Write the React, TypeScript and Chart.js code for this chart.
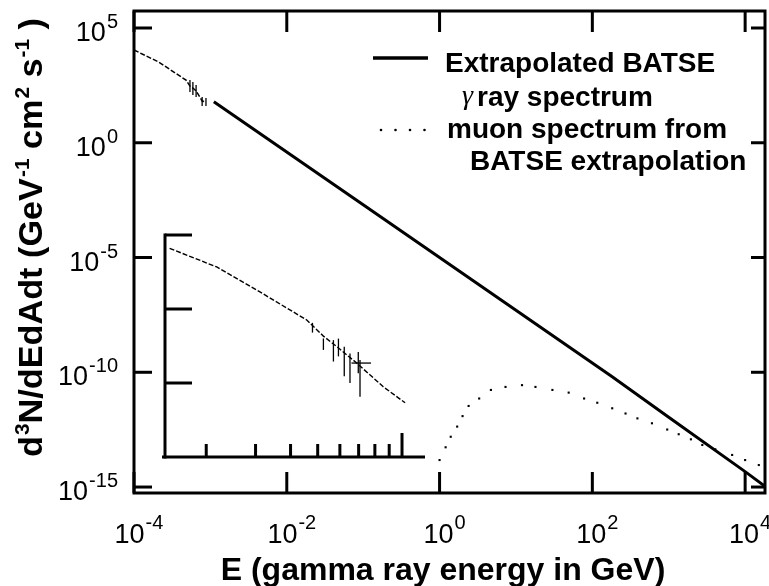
import React, { useEffect, useRef } from "react";
import { Chart, registerables } from "chart.js";

Chart.register(...registerables);

// ---------------- main chart data ----------------
// Extrapolated BATSE gamma-ray spectrum (solid)
const gammaE = [1.11e-3, 0.1, 10, 180, 1000, 1e4, 1.8e4];
const gammaFlux = [61.5, 2.0e-3, 5.0e-8, 6.5e-11, 1.1e-12, 4.7e-15, 1.1e-15];

// measured BATSE spectrum at low energy (thin, with error bars)
const batseLowE = [1e-4, 2.1e-4, 4.8e-4, 5.4e-4, 5.9e-4, 6.5e-4, 7.8e-4, 8.75e-4];
const batseLowFlux = [1.1e4, 3.3e3, 537, 295, 243, 180, 66, 60];
const batseErrE = [5.4e-4, 5.9e-4, 6.5e-4, 7.8e-4, 8.75e-4];
const batseErrLo = [162, 120, 98, 40, 40];
const batseErrHi = [537, 444, 328, 98, 89];

// muon spectrum from BATSE extrapolation (dotted)
const muonE = [1.0, 1.2, 1.4, 1.7, 2.0, 2.4, 3.3, 4.7, 7.3, 12, 18, 30, 49, 78, 116, 182, 272, 389, 603, 955, 1350, 1950, 2750, 4070, 6760, 10000, 15100];
const muonFlux = [1.5e-14, 5.4e-14, 1.55e-13, 4.3e-13, 1.23e-12, 3.4e-12, 7.2e-12, 1.7e-11, 2.3e-11, 2.75e-11, 2.3e-11, 1.7e-11, 1.3e-11, 7.2e-12, 4.7e-12, 2.7e-12, 1.6e-12, 9.8e-13, 6.0e-13, 3.2e-13, 2.0e-13, 1.2e-13, 6.8e-14, 4.4e-14, 2.5e-14, 1.5e-14, 9.1e-15];

// axes
const xMin = 1e-4;
const xMax = 1.82e4;
const yMin = 5.5e-16;
const yMax = 5.5e5;
const xTickValues = [1e-4, 1e-2, 1, 1e2, 1e4];
const xTickExps = ["-4", "-2", "0", "2", "4"];
const yTickValues = [1e5, 1, 1e-5, 1e-10, 1e-15];
const yTickExps = ["5", "0", "-5", "-10", "-15"];

const xTitle = "E (gamma ray energy in GeV)";
const legendSolid1 = "Extrapolated BATSE";
const legendSolidGamma = "\u03b3";
const legendSolid2 = "ray spectrum";
const legendDotted1 = "muon spectrum from";
const legendDotted2 = "BATSE extrapolation";

// ---------------- inset data ----------------
const insetE = [0.148, 0.218, 0.311, 0.457, 0.524, 0.585, 0.689, 0.857, 1.026];
const insetFlux = [0.66, 0.37, 0.17, 0.071, 0.043, 0.031, 0.0186, 0.0089, 0.0054];
const insetErrE = [0.479, 0.524, 0.569, 0.593, 0.622, 0.652, 0.698, 0.708];
const insetErrLo = [0.048, 0.028, 0.0195, 0.0229, 0.0123, 0.01, 0.0135, 0.0065];
const insetErrHi = [0.065, 0.04, 0.038, 0.0398, 0.031, 0.0251, 0.0263, 0.0204];
const insetHErrY = [0.0186];
const insetHErrLo = [0.66];
const insetHErrHi = [0.775];
const insetXMin = 0.1425;
const insetXMax = 1.208;
const insetYMin = 1e-3;
const insetYMax = 1;
const insetXMinor = [0.2, 0.3, 0.4, 0.5, 0.6, 0.7, 0.8, 0.9];
const insetXMajor = [1];
const insetYTicks = [1, 0.1, 0.01];

const FONT = "'Liberation Sans', Arial, Helvetica, sans-serif";

type Run = { t: string; sup?: boolean };

function runFont(r: Run, size: number, supSize: number, weight: string) {
  return `${weight} ${r.sup ? supSize : size}px ${FONT}`;
}

function measureRuns(ctx: CanvasRenderingContext2D, runs: Run[], size: number, supSize: number, weight: string) {
  let w = 0;
  for (const r of runs) {
    ctx.font = runFont(r, size, supSize, weight);
    w += ctx.measureText(r.t).width + (r.sup ? 1 : 0);
  }
  return w;
}

function drawRuns(ctx: CanvasRenderingContext2D, runs: Run[], x: number, y: number, size: number, supSize: number, weight: string, raise: number) {
  let cx = x;
  ctx.textAlign = "left";
  ctx.textBaseline = "alphabetic";
  for (const r of runs) {
    ctx.font = runFont(r, size, supSize, weight);
    if (r.sup) cx += 1;
    ctx.fillText(r.t, cx, r.sup ? y - raise : y);
    cx += ctx.measureText(r.t).width;
  }
}

function line(ctx: CanvasRenderingContext2D, x1: number, y1: number, x2: number, y2: number) {
  ctx.beginPath();
  ctx.moveTo(x1, y1);
  ctx.lineTo(x2, y2);
  ctx.stroke();
}

const mainDecor = {
  id: "mainDecor",
  afterDatasetsDraw(chart: any) {
    const { ctx, chartArea: ca, scales } = chart;
    const xs = scales.x;
    const ys = scales.y;
    ctx.save();
    ctx.strokeStyle = "#000";
    ctx.fillStyle = "#000";

    // error bars of the measured low-energy spectrum
    ctx.lineWidth = 1.3;
    for (let i = 0; i < batseErrE.length; i++) {
      const px = xs.getPixelForValue(batseErrE[i]);
      line(ctx, px, ys.getPixelForValue(batseErrLo[i]), px, ys.getPixelForValue(batseErrHi[i]));
    }

    // frame
    ctx.lineWidth = 3;
    ctx.strokeRect(ca.left, ca.top, ca.right - ca.left, ca.bottom - ca.top);

    // ticks
    for (const v of xTickValues) {
      const px = xs.getPixelForValue(v);
      line(ctx, px, ca.top, px, ca.top + 21);
      line(ctx, px, ca.bottom, px, ca.bottom - 21);
    }
    for (const v of yTickValues) {
      const py = ys.getPixelForValue(v);
      line(ctx, ca.left, py, ca.left + 18, py);
      line(ctx, ca.right, py, ca.right - 14, py);
    }
    ctx.restore();
  },
  afterDraw(chart: any) {
    const { ctx, chartArea: ca, scales } = chart;
    const xs = scales.x;
    const ys = scales.y;
    ctx.save();
    ctx.fillStyle = "#000";
    ctx.strokeStyle = "#000";

    // x tick labels
    xTickValues.forEach((v, i) => {
      const px = xs.getPixelForValue(v);
      const runs: Run[] = [{ t: "10" }, { t: xTickExps[i], sup: true }];
      const w = measureRuns(ctx, runs, 27, 20, "normal");
      drawRuns(ctx, runs, px + 5 - w / 2, ca.bottom + 50, 27, 20, "normal", 14);
    });

    // y tick labels
    yTickValues.forEach((v, i) => {
      const py = ys.getPixelForValue(v);
      const runs: Run[] = [{ t: "10" }, { t: yTickExps[i], sup: true }];
      const w = measureRuns(ctx, runs, 27, 20, "normal");
      drawRuns(ctx, runs, ca.left - 16 - w, py + 13, 27, 20, "normal", 13);
    });

    // x title
    ctx.font = `bold 32px ${FONT}`;
    ctx.textAlign = "center";
    ctx.textBaseline = "alphabetic";
    ctx.fillText(xTitle, 443, 580);

    // y title (rotated)
    const yRuns: Run[] = [
      { t: "d" }, { t: "3", sup: true }, { t: "N/dEdAdt (GeV" }, { t: "-1", sup: true },
      { t: " cm" }, { t: "2", sup: true }, { t: " s" }, { t: "-1", sup: true }, { t: " )" },
    ];
    const natural = measureRuns(ctx, yRuns, 33, 20, "bold");
    ctx.save();
    ctx.translate(42, 457);
    ctx.rotate(-Math.PI / 2);
    ctx.scale(439 / natural, 1);
    drawRuns(ctx, yRuns, 0, 0, 33, 20, "bold", 13);
    ctx.restore();

    // legend
    ctx.lineWidth = 3.5;
    line(ctx, 373, 58, 428, 58);
    for (let k = 0; k < 4; k++) {
      ctx.beginPath();
      ctx.arc(381 + k * 14.5, 130, 1.3, 0, Math.PI * 2);
      ctx.fill();
    }
    ctx.textAlign = "left";
    ctx.font = `bold 28px ${FONT}`;
    ctx.fillText(legendSolid1, 445, 72);
    ctx.font = `italic 28px 'Liberation Serif', 'DejaVu Serif', serif`;
    ctx.fillText(legendSolidGamma, 462, 104);
    ctx.font = `bold 28px ${FONT}`;
    ctx.fillText(legendSolid2, 477, 106);
    ctx.fillText(legendDotted1, 447, 138);
    ctx.fillText(legendDotted2, 470, 170);
    ctx.restore();
  },
};

const insetDecor = {
  id: "insetDecor",
  afterDatasetsDraw(chart: any) {
    const { ctx, chartArea: ca, scales } = chart;
    const xs = scales.x;
    const ys = scales.y;
    ctx.save();
    ctx.strokeStyle = "#000";
    ctx.lineWidth = 1.3;
    for (let i = 0; i < insetErrE.length; i++) {
      const px = xs.getPixelForValue(insetErrE[i]);
      line(ctx, px, ys.getPixelForValue(insetErrLo[i]), px, ys.getPixelForValue(insetErrHi[i]));
    }
    for (let i = 0; i < insetHErrY.length; i++) {
      const py = ys.getPixelForValue(insetHErrY[i]);
      line(ctx, xs.getPixelForValue(insetHErrLo[i]), py, xs.getPixelForValue(insetHErrHi[i]), py);
    }
    ctx.lineWidth = 3;
    line(ctx, ca.left, ca.top - 1.5, ca.left, ca.bottom + 1.5);
    line(ctx, ca.left - 3, ca.bottom, ca.right, ca.bottom);
    for (const v of insetYTicks) {
      const py = ys.getPixelForValue(v);
      line(ctx, ca.left, py, ca.left + 27, py);
    }
    for (const v of insetXMinor) {
      const px = xs.getPixelForValue(v);
      line(ctx, px, ca.bottom, px, ca.bottom - 13);
    }
    for (const v of insetXMajor) {
      const px = xs.getPixelForValue(v);
      line(ctx, px, ca.bottom, px, ca.bottom - 24);
    }
    ctx.restore();
  },
};

export default function App() {
  const mainRef = useRef<HTMLCanvasElement | null>(null);
  const insetRef = useRef<HTMLCanvasElement | null>(null);

  useEffect(() => {
    if (!mainRef.current || !insetRef.current) return;
    const main = new Chart(mainRef.current, {
      type: "scatter",
      data: {
        datasets: [
          {
            label: "Extrapolated BATSE \u03b3 ray spectrum",
            data: gammaE.map((e, i) => ({ x: e, y: gammaFlux[i] })),
            showLine: true,
            borderColor: "#000",
            borderWidth: 3,
            pointRadius: 0,
          },
          {
            label: "BATSE spectrum",
            data: batseLowE.map((e, i) => ({ x: e, y: batseLowFlux[i] })),
            showLine: true,
            borderColor: "#000",
            borderWidth: 1.5,
            borderDash: [5, 2],
            pointRadius: 0,
          },
          {
            label: "muon spectrum from BATSE extrapolation",
            data: muonE.map((e, i) => ({ x: e, y: muonFlux[i] })),
            showLine: false,
            backgroundColor: "#000",
            borderWidth: 0,
            pointRadius: 1.5,
            pointStyle: "rect",
          },
        ],
      },
      options: {
        responsive: false,
        animation: false,
        devicePixelRatio: 1,
        events: [],
        layout: { padding: { left: 134, top: 11, right: 3, bottom: 93 } },
        plugins: { legend: { display: false }, tooltip: { enabled: false } },
        scales: {
          x: { type: "logarithmic", min: xMin, max: xMax, bounds: "data", display: false },
          y: { type: "logarithmic", min: yMin, max: yMax, bounds: "data", display: false },
        },
      },
      plugins: [mainDecor],
    } as any);

    const inset = new Chart(insetRef.current, {
      type: "scatter",
      data: {
        datasets: [
          {
            label: "BATSE burst spectrum",
            data: insetE.map((e, i) => ({ x: e, y: insetFlux[i] })),
            showLine: true,
            borderColor: "#000",
            borderWidth: 1.4,
            borderDash: [5, 2],
            pointRadius: 0,
          },
        ],
      },
      options: {
        responsive: false,
        animation: false,
        devicePixelRatio: 1,
        events: [],
        layout: { padding: { left: 25, top: 15, right: 15, bottom: 23 } },
        plugins: { legend: { display: false }, tooltip: { enabled: false } },
        scales: {
          x: { type: "logarithmic", min: insetXMin, max: insetXMax, bounds: "data", display: false },
          y: { type: "logarithmic", min: insetYMin, max: insetYMax, bounds: "data", display: false },
        },
      },
      plugins: [insetDecor],
    } as any);

    return () => {
      main.destroy();
      inset.destroy();
    };
  }, []);

  return (
    <div style={{ position: "absolute", left: 0, top: 0, width: 769, height: 586, background: "#fff" }}>
      <canvas ref={mainRef} width={769} height={586} style={{ position: "absolute", left: 0, top: 0 }} />
      <canvas ref={insetRef} width={300} height={260} style={{ position: "absolute", left: 140, top: 220 }} />
    </div>
  );
}
